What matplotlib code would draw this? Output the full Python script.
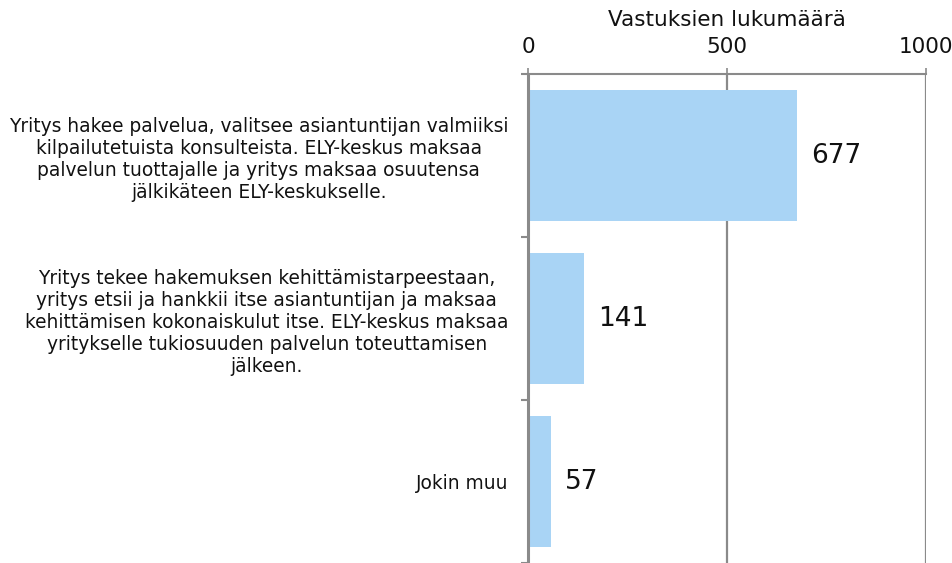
import matplotlib
matplotlib.use("Agg")
import matplotlib.pyplot as plt

categories = [
    "Yritys hakee palvelua, valitsee asiantuntijan valmiiksi\nkilpailutetuista konsulteista. ELY-keskus maksaa\npalvelun tuottajalle ja yritys maksaa osuutensa\njälkikäteen ELY-keskukselle.",
    "Yritys tekee hakemuksen kehittämistarpeestaan,\nyritys etsii ja hankkii itse asiantuntijan ja maksaa\nkehittämisen kokonaiskulut itse. ELY-keskus maksaa\nyritykselle tukiosuuden palvelun toteuttamisen\njälkeen.",
    "Jokin muu",
]
values = [677, 141, 57]
xticks = [0, 500, 1000]
xlabel = "Vastuksien lukumäärä"

grey = "#8a8a8a"
bar_color = "#a9d4f5"

fig = plt.figure(figsize=(9.53, 5.63), dpi=100)
ax = fig.add_axes([528/953, 0.0, (926-528)/953, 1 - 74/563])

y = list(range(len(categories)))
ax.barh(y, values, height=0.8, color=bar_color, zorder=2)
ax.set_xlim(0, 1000)
ax.set_ylim(len(categories) - 0.5, -0.5)

for yi, v in zip(y, values):
    ax.annotate(str(v), (v, yi), xytext=(14, 0), textcoords="offset pixels",
                ha="left", va="center", fontsize=19, color="#111111")

ax.xaxis.tick_top()
ax.xaxis.set_label_position("top")
ax.set_xticks(xticks)
ax.set_xticklabels([str(t) for t in xticks], fontsize=15.5, color="#111111")
ax.set_xlabel(xlabel, fontsize=15.5, labelpad=8.5, color="#111111")
ax.tick_params(axis="x", length=4, width=1.2, color=grey, pad=8, direction="out")

ax.set_yticks(y)
ax.set_yticklabels(categories, fontsize=13.4, color="#111111", multialignment="center",
                   linespacing=1.2)
ax.set_yticks([i - 0.5 for i in range(len(categories) + 1)], minor=True)
ax.tick_params(axis="y", which="major", length=0, pad=14)
ax.tick_params(axis="y", which="minor", length=5, width=1.5, color=grey, direction="out")

for x in xticks[1:]:
    ax.axvline(x, color=grey, lw=1.6, zorder=1)

for s in ["right", "bottom"]:
    ax.spines[s].set_visible(False)
ax.spines["left"].set_color(grey)
ax.spines["left"].set_linewidth(2.2)
ax.spines["top"].set_color(grey)
ax.spines["top"].set_linewidth(1.5)

fig.savefig("out.png", dpi=100)
